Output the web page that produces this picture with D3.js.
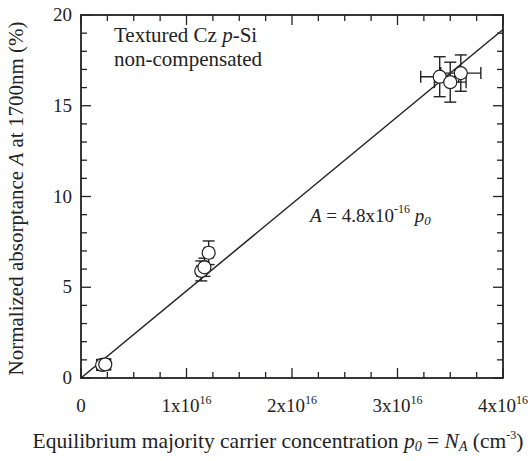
<!DOCTYPE html>
<html>
<head>
<meta charset="utf-8">
<script src="https://cdn.jsdelivr.net/npm/d3@7"></script>
<style>
body { margin: 0; background: #fff; }
</style>
</head>
<body>
<svg id="chart" width="528" height="461" font-family="'Liberation Serif', 'DejaVu Serif', serif"></svg>
<script>
// carrier concentration (units of 1e16 cm^-3), absorptance (%)
const pConc   = [0.20, 0.23, 1.14, 1.17, 1.21, 3.40, 3.50, 3.60];
const absorb  = [0.72, 0.75, 5.9, 6.1, 6.9, 16.6, 16.3, 16.8];
const pErr    = [0.05, 0.05, 0.04, 0.04, 0.04, 0.18, 0.15, 0.19];
const aErr    = [0.3, 0.3, 0.55, 0.5, 0.65, 1.1, 1.1, 1.0];
const slope = 4.8; // A = 4.8e-16 * p0
const xTicks = [0, 1, 2, 3, 4];
const yTicks = [0, 5, 10, 15, 20];

const svg = d3.select("#chart");
const margin = {top: 15, right: 25, bottom: 83, left: 81};
const width = 528 - margin.left - margin.right;
const height = 461 - margin.top - margin.bottom;

const x = d3.scaleLinear().domain([0, 4]).range([margin.left, margin.left + width]);
const y = d3.scaleLinear().domain([0, 20]).range([margin.top + height, margin.top]);

const ink = "#222";
svg.attr("fill", ink);

// frame
svg.append("rect")
    .attr("x", x(0)).attr("y", y(20))
    .attr("width", width).attr("height", height)
    .attr("fill", "none").attr("stroke", ink).attr("stroke-width", 1.8);

// ticks (inward, mirrored)
const xMinor = d3.range(0, 4.001, 0.25);
const yMinor = d3.range(0, 20.001, 1);
const tk = svg.append("g").attr("stroke", ink).attr("stroke-width", 1.3);
xMinor.forEach(v => {
    const major = Math.abs(v - Math.round(v)) < 1e-6;
    const len = major ? 10 : 6;
    tk.append("line").attr("x1", x(v)).attr("x2", x(v)).attr("y1", y(0)).attr("y2", y(0) - len);
    tk.append("line").attr("x1", x(v)).attr("x2", x(v)).attr("y1", y(20)).attr("y2", y(20) + len);
});
yMinor.forEach(v => {
    const len = v % 5 === 0 ? 10 : 6;
    tk.append("line").attr("y1", y(v)).attr("y2", y(v)).attr("x1", x(0)).attr("x2", x(0) + len);
    tk.append("line").attr("y1", y(v)).attr("y2", y(v)).attr("x1", x(4)).attr("x2", x(4) - len);
});

// tick labels
svg.append("g").selectAll("text").data(yTicks).join("text")
    .attr("x", x(0) - 9).attr("y", d => y(d) + 6)
    .attr("text-anchor", "end").attr("font-size", 19)
    .text(d => d);

const xl = svg.append("g").selectAll("text").data(xTicks).join("text")
    .attr("x", d => x(d)).attr("y", y(0) + 34)
    .attr("text-anchor", "middle").attr("font-size", 19);
xl.each(function(d) {
    const t = d3.select(this);
    if (d === 0) { t.text("0"); return; }
    t.append("tspan").text(d + "x10");
    t.append("tspan").attr("dy", -8).attr("font-size", 12).text("16");
});

// fit line
svg.append("line")
    .attr("x1", x(0)).attr("y1", y(0))
    .attr("x2", x(4)).attr("y2", y(4 * slope))
    .attr("stroke", ink).attr("stroke-width", 1.5);

// error bars
const pts = pConc.map((p, i) => ({p, a: absorb[i], ep: pErr[i], ea: aErr[i]}));
const eb = svg.append("g").attr("stroke", ink).attr("stroke-width", 1.4);
const cap = 6;
pts.forEach(d => {
    eb.append("line").attr("x1", x(d.p)).attr("x2", x(d.p)).attr("y1", y(d.a - d.ea)).attr("y2", y(d.a + d.ea));
    eb.append("line").attr("x1", x(d.p) - cap).attr("x2", x(d.p) + cap).attr("y1", y(d.a - d.ea)).attr("y2", y(d.a - d.ea));
    eb.append("line").attr("x1", x(d.p) - cap).attr("x2", x(d.p) + cap).attr("y1", y(d.a + d.ea)).attr("y2", y(d.a + d.ea));
    eb.append("line").attr("x1", x(d.p - d.ep)).attr("x2", x(d.p + d.ep)).attr("y1", y(d.a)).attr("y2", y(d.a));
    eb.append("line").attr("x1", x(d.p - d.ep)).attr("x2", x(d.p - d.ep)).attr("y1", y(d.a) - cap).attr("y2", y(d.a) + cap);
    eb.append("line").attr("x1", x(d.p + d.ep)).attr("x2", x(d.p + d.ep)).attr("y1", y(d.a) - cap).attr("y2", y(d.a) + cap);
});

// markers
svg.append("g").selectAll("circle").data(pts).join("circle")
    .attr("cx", d => x(d.p)).attr("cy", d => y(d.a)).attr("r", 6.5)
    .attr("fill", "#fff").attr("stroke", ink).attr("stroke-width", 1.2);

// annotations
const ann = svg.append("g").attr("font-size", 21);
const t1 = ann.append("text").attr("x", 114).attr("y", 42);
t1.append("tspan").text("Textured Cz ");
t1.append("tspan").attr("font-style", "italic").text("p");
t1.append("tspan").text("-Si");
ann.append("text").attr("x", 114).attr("y", 66).text("non-compensated");
const eq = ann.append("text").attr("x", 310).attr("y", 222).attr("font-size", 19);
eq.append("tspan").attr("font-style", "italic").text("A");
eq.append("tspan").text(" = 4.8x10");
eq.append("tspan").attr("dy", -9).attr("font-size", 12).text("-16");
eq.append("tspan").attr("dy", 9).text(" ");
eq.append("tspan").attr("font-style", "italic").text("p");
eq.append("tspan").attr("font-style", "italic").attr("font-size", 13).attr("dy", 3).text("0");

// axis titles
const yt = svg.append("text")
    .attr("transform", `translate(23,${margin.top + height / 2 + 2}) rotate(-90)`)
    .attr("text-anchor", "middle").attr("font-size", 21);
yt.append("tspan").text("Normalized absorptance ");
yt.append("tspan").attr("font-style", "italic").text("A");
yt.append("tspan").text(" at 1700nm (%)");

const xt = svg.append("text")
    .attr("x", 278).attr("y", 448)
    .attr("text-anchor", "middle").attr("font-size", 21.5);
xt.append("tspan").text("Equilibrium majority carrier concentration ");
xt.append("tspan").attr("font-style", "italic").text("p");
xt.append("tspan").attr("font-style", "italic").attr("font-size", 14).attr("dy", 3).text("0");
xt.append("tspan").attr("dy", -3).text(" = ");
xt.append("tspan").attr("font-style", "italic").text("N");
xt.append("tspan").attr("font-style", "italic").attr("font-size", 14).attr("dy", 3).text("A");
xt.append("tspan").attr("dy", -3).text(" (cm");
xt.append("tspan").attr("dy", -9).attr("font-size", 12).text("-3");
xt.append("tspan").attr("dy", 9).text(")");
</script>
</body>
</html>
